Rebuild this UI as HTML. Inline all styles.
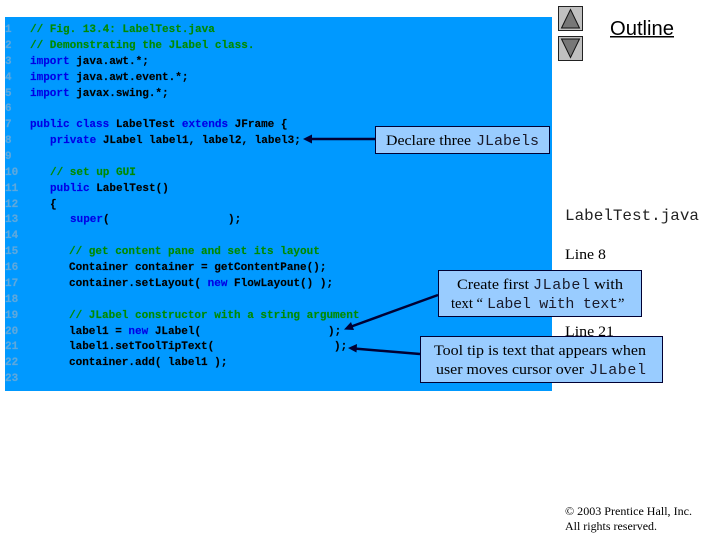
<!DOCTYPE html>
<html>
<head>
<meta charset="utf-8">
<style>
html,body{margin:0;padding:0;background:#fff}
svg{display:block}
.c{font-family:"Liberation Mono",monospace;font-size:11px;font-weight:bold;fill:#000;stroke:#000;stroke-width:.15px}
.n{fill:#5fa8dc;stroke:#5fa8dc}
.g{fill:#008a00;stroke:#008a00}
.b{fill:#0000e6;stroke:#0000e6}
.s{font-family:"Liberation Serif",serif;font-size:14.5px;fill:#000}
.m{font-family:"Liberation Mono",monospace;font-size:15px;fill:#1a1a2a}
.soft{filter:blur(.35px)}
</style>
</head>
<body>
<svg width="720" height="540" viewBox="0 0 720 540" xmlns="http://www.w3.org/2000/svg">
<rect width="720" height="540" fill="#fff"/>
<rect x="5" y="17" width="547" height="374" fill="#0099ff"/>

<g class="c n soft">
<text x="5" y="32">1</text><text x="5" y="48">2</text><text x="5" y="64">3</text><text x="5" y="80">4</text><text x="5" y="96">5</text><text x="5" y="111">6</text><text x="5" y="127">7</text><text x="5" y="143">8</text><text x="5" y="159">9</text><text x="5" y="175">10</text><text x="5" y="191">11</text><text x="5" y="207">12</text><text x="5" y="222">13</text><text x="5" y="238">14</text><text x="5" y="254">15</text><text x="5" y="270">16</text><text x="5" y="286">17</text><text x="5" y="302">18</text><text x="5" y="318">19</text><text x="5" y="334">20</text><text x="5" y="349">21</text><text x="5" y="365">22</text><text x="5" y="381">23</text>
</g>

<g class="c soft">
<text x="30" y="32" class="c g">// Fig. 13.4: LabelTest.java</text>
<text x="30" y="48" class="c g">// Demonstrating the JLabel class.</text>
<text x="30" y="64"><tspan class="b">import</tspan> java.awt.*;</text>
<text x="30" y="80"><tspan class="b">import</tspan> java.awt.event.*;</text>
<text x="30" y="96"><tspan class="b">import</tspan> javax.swing.*;</text>
<text x="30" y="127"><tspan class="b">public class</tspan> LabelTest <tspan class="b">extends</tspan> JFrame {</text>
<text x="50" y="143"><tspan class="b">private</tspan> JLabel label1, label2, label3;</text>
<text x="50" y="175" class="c g">// set up GUI</text>
<text x="50" y="191"><tspan class="b">public</tspan> LabelTest()</text>
<text x="50" y="207">{</text>
<text x="70" y="222"><tspan class="b">super</tspan>(</text>
<text x="228" y="222">);</text>
<text x="69" y="254" class="c g">// get content pane and set its layout</text>
<text x="69" y="270">Container container = getContentPane();</text>
<text x="69" y="286">container.setLayout( <tspan class="b">new</tspan> FlowLayout() );</text>
<text x="69" y="318" class="c g">// JLabel constructor with a string argument</text>
<text x="69" y="334">label1 = <tspan class="b">new</tspan> JLabel(</text>
<text x="328" y="334">);</text>
<text x="69" y="349">label1.setToolTipText(</text>
<text x="334" y="349">);</text>
<text x="69" y="365">container.add( label1 );</text>
</g>

<rect x="558.5" y="6.5" width="24" height="24" fill="#c0c0c0" stroke="#222"/>
<path d="M570.5 9.5 L579.5 28 L561.5 28 Z" fill="#777" stroke="#111"/>
<rect x="558.5" y="36.5" width="24" height="24" fill="#c0c0c0" stroke="#222"/>
<path d="M561.5 39 L579.5 39 L570.5 57.5 Z" fill="#777" stroke="#111"/>

<text x="610" y="35" textLength="64" lengthAdjust="spacingAndGlyphs" style="font-family:'Liberation Sans',sans-serif;font-size:20px;fill:#000">Outline</text>
<rect x="610" y="36" width="64" height="1.5" fill="#000"/>

<text x="565" y="220" textLength="134" lengthAdjust="spacingAndGlyphs" style="font-family:'Liberation Mono',monospace;font-size:16px;fill:#222">LabelTest.java</text>
<text x="565" y="259" class="s" textLength="41" lengthAdjust="spacingAndGlyphs">Line 8</text>
<text x="565" y="336" class="s" textLength="49" lengthAdjust="spacingAndGlyphs">Line 21</text>

<g stroke="#000033" stroke-width="2.5" fill="#000033">
<line x1="375" y1="139" x2="308" y2="139"/>
<path d="M303 139 L312 134.5 L312 143.5 Z" stroke="none"/>
<line x1="438" y1="295" x2="350" y2="327"/>
<path d="M344 329.5 L351 322 L354 330 Z" stroke="none"/>
<line x1="420" y1="354" x2="354" y2="348.5"/>
<path d="M348 348 L357 344 L356.5 352.5 Z" stroke="none"/>
</g>

<rect x="375.5" y="126.5" width="174" height="27" fill="#99ccff" stroke="#000033"/>
<text x="386" y="145" class="s" textLength="85" lengthAdjust="spacingAndGlyphs">Declare three</text>
<text x="476" y="145" class="m" textLength="63" lengthAdjust="spacing">JLabels</text>

<rect x="438.5" y="270.5" width="203" height="46" fill="#99ccff" stroke="#000033"/>
<text x="457" y="289" class="s" textLength="72" lengthAdjust="spacingAndGlyphs">Create first</text>
<text x="533" y="289" class="m" textLength="57" lengthAdjust="spacing">JLabel</text>
<text x="594" y="289" class="s" textLength="29" lengthAdjust="spacingAndGlyphs">with</text>
<text x="451" y="308" class="s" textLength="32" lengthAdjust="spacingAndGlyphs">text “</text>
<text x="487" y="308" class="m" textLength="131" lengthAdjust="spacing">Label with text</text>
<text x="618" y="308" class="s">”</text>

<rect x="420.5" y="336.5" width="242" height="46" fill="#99ccff" stroke="#000033"/>
<text x="434" y="355" class="s" textLength="212" lengthAdjust="spacingAndGlyphs">Tool tip is text that appears when</text>
<text x="436" y="374" class="s" textLength="148" lengthAdjust="spacingAndGlyphs">user moves cursor over</text>
<text x="589" y="374" class="m" textLength="57" lengthAdjust="spacing">JLabel</text>

<text x="565" y="515" textLength="127" lengthAdjust="spacingAndGlyphs" style="font-family:'Liberation Serif',serif;font-size:12px;fill:#000">© 2003 Prentice Hall, Inc.</text>
<text x="565" y="530" textLength="92" lengthAdjust="spacingAndGlyphs" style="font-family:'Liberation Serif',serif;font-size:12px;fill:#000">All rights reserved.</text>
</svg>
</body>
</html>
